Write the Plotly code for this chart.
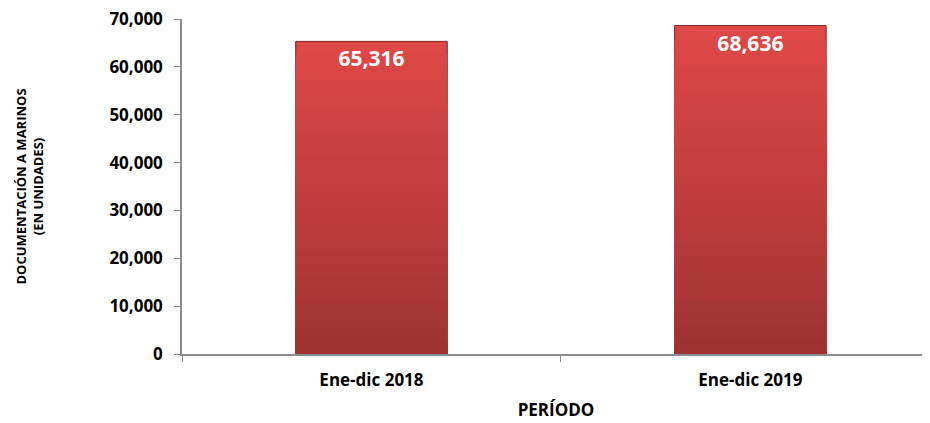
import plotly.graph_objects as go

periodos = ["Ene-dic 2018", "Ene-dic 2019"]
valores = [65316, 68636]
etiquetas = ["65,316", "68,636"]
y_ticks = [0, 10000, 20000, 30000, 40000, 50000, 60000, 70000]

# shading for the bars: light red at the top, darker towards the base
capas = 24
color_alto = (222, 72, 70)
color_bajo = (160, 50, 50)

fig = go.Figure()

for i in range(capas):
    f = 1 - i / capas
    t = i / (capas - 1)
    rgb = tuple(round(a + (b - a) * t) for a, b in zip(color_alto, color_bajo))
    fig.add_trace(
        go.Bar(
            x=periodos,
            y=[v * f for v in valores],
            width=0.40,
            marker=dict(
                color="rgb(%d,%d,%d)" % rgb,
                line=dict(color="#7d2626", width=1 if i == 0 else 0),
            ),
            textposition="none",
            hoverinfo="skip",
        )
    )

# label trace on top so the shading does not cover the text
fig.add_trace(
    go.Bar(
        x=periodos,
        y=valores,
        width=0.40,
        marker=dict(color="rgba(0,0,0,0)", line=dict(width=0)),
        text=etiquetas,
        textposition="inside",
        insidetextanchor="end",
        textangle=0,
        textfont=dict(family="Open Sans", size=21, color="white", weight="bold"),
        hoverinfo="skip",
    )
)

# the page body adds an 8px offset, so the figure is a little smaller than the window
fig.update_layout(
    width=922,
    height=415,
    barmode="overlay",
    margin=dict(l=174, r=0, t=11, b=69, autoexpand=False),
    paper_bgcolor="white",
    plot_bgcolor="white",
    showlegend=False,
    font=dict(family="Open Sans", color="black"),
    xaxis=dict(
        title=dict(text="<b>PERÍODO</b>", font=dict(size=17), standoff=14),
        range=[-0.5, 1.474],
        showgrid=False,
        showline=True,
        linecolor="#8c8c8c",
        linewidth=1.5,
        ticks="outside",
        tickson="boundaries",
        ticklen=6,
        tickcolor="#8c8c8c",
        ticklabelstandoff=10,
        tickfont=dict(size=17, weight="bold"),
    ),
    yaxis=dict(
        title=dict(
            text="<b>DOCUMENTACIÓN A MARINOS<br>(EN UNIDADES)</b>",
            font=dict(size=13),
            standoff=63,
        ),
        range=[0, 70000],
        tickvals=y_ticks,
        tickformat=",",
        showgrid=False,
        zeroline=False,
        showline=True,
        linecolor="#8c8c8c",
        linewidth=1.5,
        ticks="outside",
        ticklen=6,
        tickcolor="#8c8c8c",
        ticklabelstandoff=8,
        ticklabeloverflow="allow",
        tickfont=dict(size=17, weight="bold"),
    ),
)

fig.write_html("out.html")
